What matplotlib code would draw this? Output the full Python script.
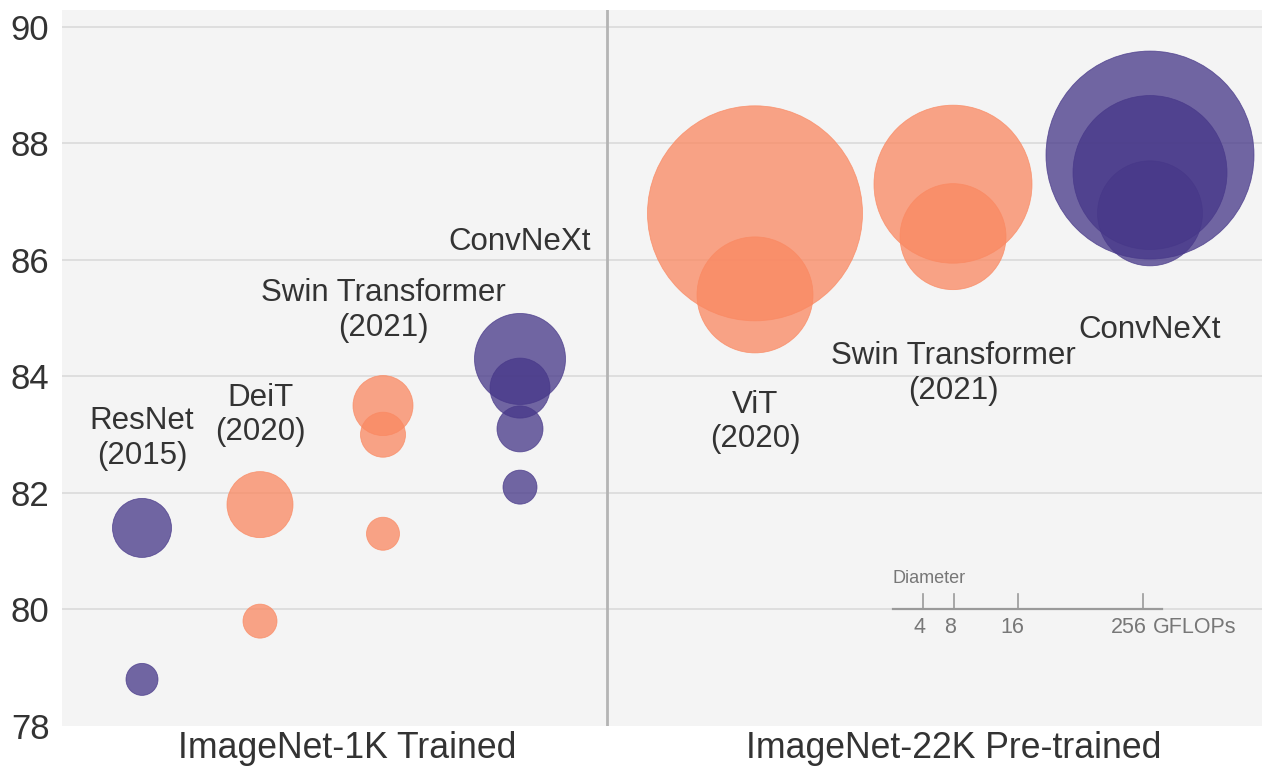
import matplotlib

matplotlib.use("Agg")
import matplotlib.pyplot as plt

plt.rcParams["font.family"] = ["Liberation Sans", "DejaVu Sans"]

PURPLE = "#473889"
ORANGE = "#fa8962"

# x positions of each model family (pixel-like data units), divider between panels
group_x = [142, 260, 383, 520, 755, 953, 1150]
divider_x = 607

# top-1 accuracy per model size, bubble diameter (px) encodes GFLOPs
resnet_acc = [78.8, 81.4]
resnet_diam = [32, 59]
deit_acc = [79.8, 81.8]
deit_diam = [34, 66]
swin1k_acc = [81.3, 83.0, 83.5]
swin1k_diam = [33, 45, 60]
convnext1k_acc = [82.1, 83.1, 83.8, 84.3]
convnext1k_diam = [34, 46, 60, 91]
vit22k_acc = [85.4, 86.8]
vit22k_diam = [116, 215]
swin22k_acc = [86.4, 87.3]
swin22k_diam = [106, 158]
convnext22k_acc = [86.8, 87.5, 87.8]
convnext22k_diam = [105, 154, 208]

series = [
    (resnet_acc, resnet_diam, PURPLE),
    (deit_acc, deit_diam, ORANGE),
    (swin1k_acc, swin1k_diam, ORANGE),
    (convnext1k_acc, convnext1k_diam, PURPLE),
    (vit22k_acc, vit22k_diam, ORANGE),
    (swin22k_acc, swin22k_diam, ORANGE),
    (convnext22k_acc, convnext22k_diam, PURPLE),
]

# label text and the y of its centre
labels = ["ResNet\n(2015)", "DeiT\n(2020)", "Swin Transformer\n(2021)", "ConvNeXt",
          "ViT\n(2020)", "Swin Transformer\n(2021)", "ConvNeXt"]
label_y = [82.93, 83.34, 85.13, 86.30, 83.22, 84.05, 84.80]

panel_labels = ["ImageNet-1K Trained", "ImageNet-22K Pre-trained"]
panel_label_x = [347, 954]

legend_ticks = ["4", "8", "16", "256"]
legend_tick_x = [923, 954, 1018, 1143]
legend_label_x = [919, 950, 1012, 1129]

fig = plt.figure(figsize=(12.66, 7.66), dpi=100)
ax = fig.add_axes([62 / 1266, 40 / 766, 1200 / 1266, 716 / 766])
ax.set_facecolor("#f4f4f4")
ax.set_xlim(62, 1262)
ax.set_ylim(78, 90.29)

for y in range(80, 91, 2):
    ax.axhline(y, color="#dcdcdc", linewidth=1.3, zorder=0)
ax.axvline(divider_x, color="#b4b4b4", linewidth=2, zorder=1)

px2pt = 72 / fig.dpi
for (acc, diam, col), x in zip(series, group_x):
    ax.scatter([x] * len(acc), acc, s=[(d * px2pt) ** 2 for d in diam],
               color=col, alpha=0.76, linewidths=0.6, edgecolors=col, zorder=3)

for x, y, txt in zip(group_x, label_y, labels):
    ax.text(x, y, txt, ha="center", va="center", fontsize=22.5, color="#333333",
            linespacing=1.2, zorder=4)

# diameter legend
ax.plot([893, 1162], [80, 80], color="#9a9a9a", linewidth=1.6, zorder=2)
for x in legend_tick_x:
    ax.plot([x, x], [80, 80.26], color="#9a9a9a", linewidth=1.2, zorder=2)
for x, t in zip(legend_label_x, legend_ticks):
    ax.text(x, 79.69, t, ha="center", va="center", fontsize=15.5, color="#777777")
ax.text(1153, 79.69, "GFLOPs", ha="left", va="center", fontsize=15.5, color="#777777")
ax.text(893, 80.53, "Diameter", ha="left", va="center", fontsize=13, color="#777777")

ax.set_yticks(range(78, 91, 2))
ax.tick_params(axis="y", length=0, pad=9, labelsize=25, labelcolor="#333333")
ax.set_xticks([])
for s in ax.spines.values():
    s.set_visible(False)

for x, t in zip(panel_label_x, panel_labels):
    ax.text(x, 77.62, t, ha="center", va="center", fontsize=25.7, color="#333333")

fig.savefig("out.png", dpi=100)
